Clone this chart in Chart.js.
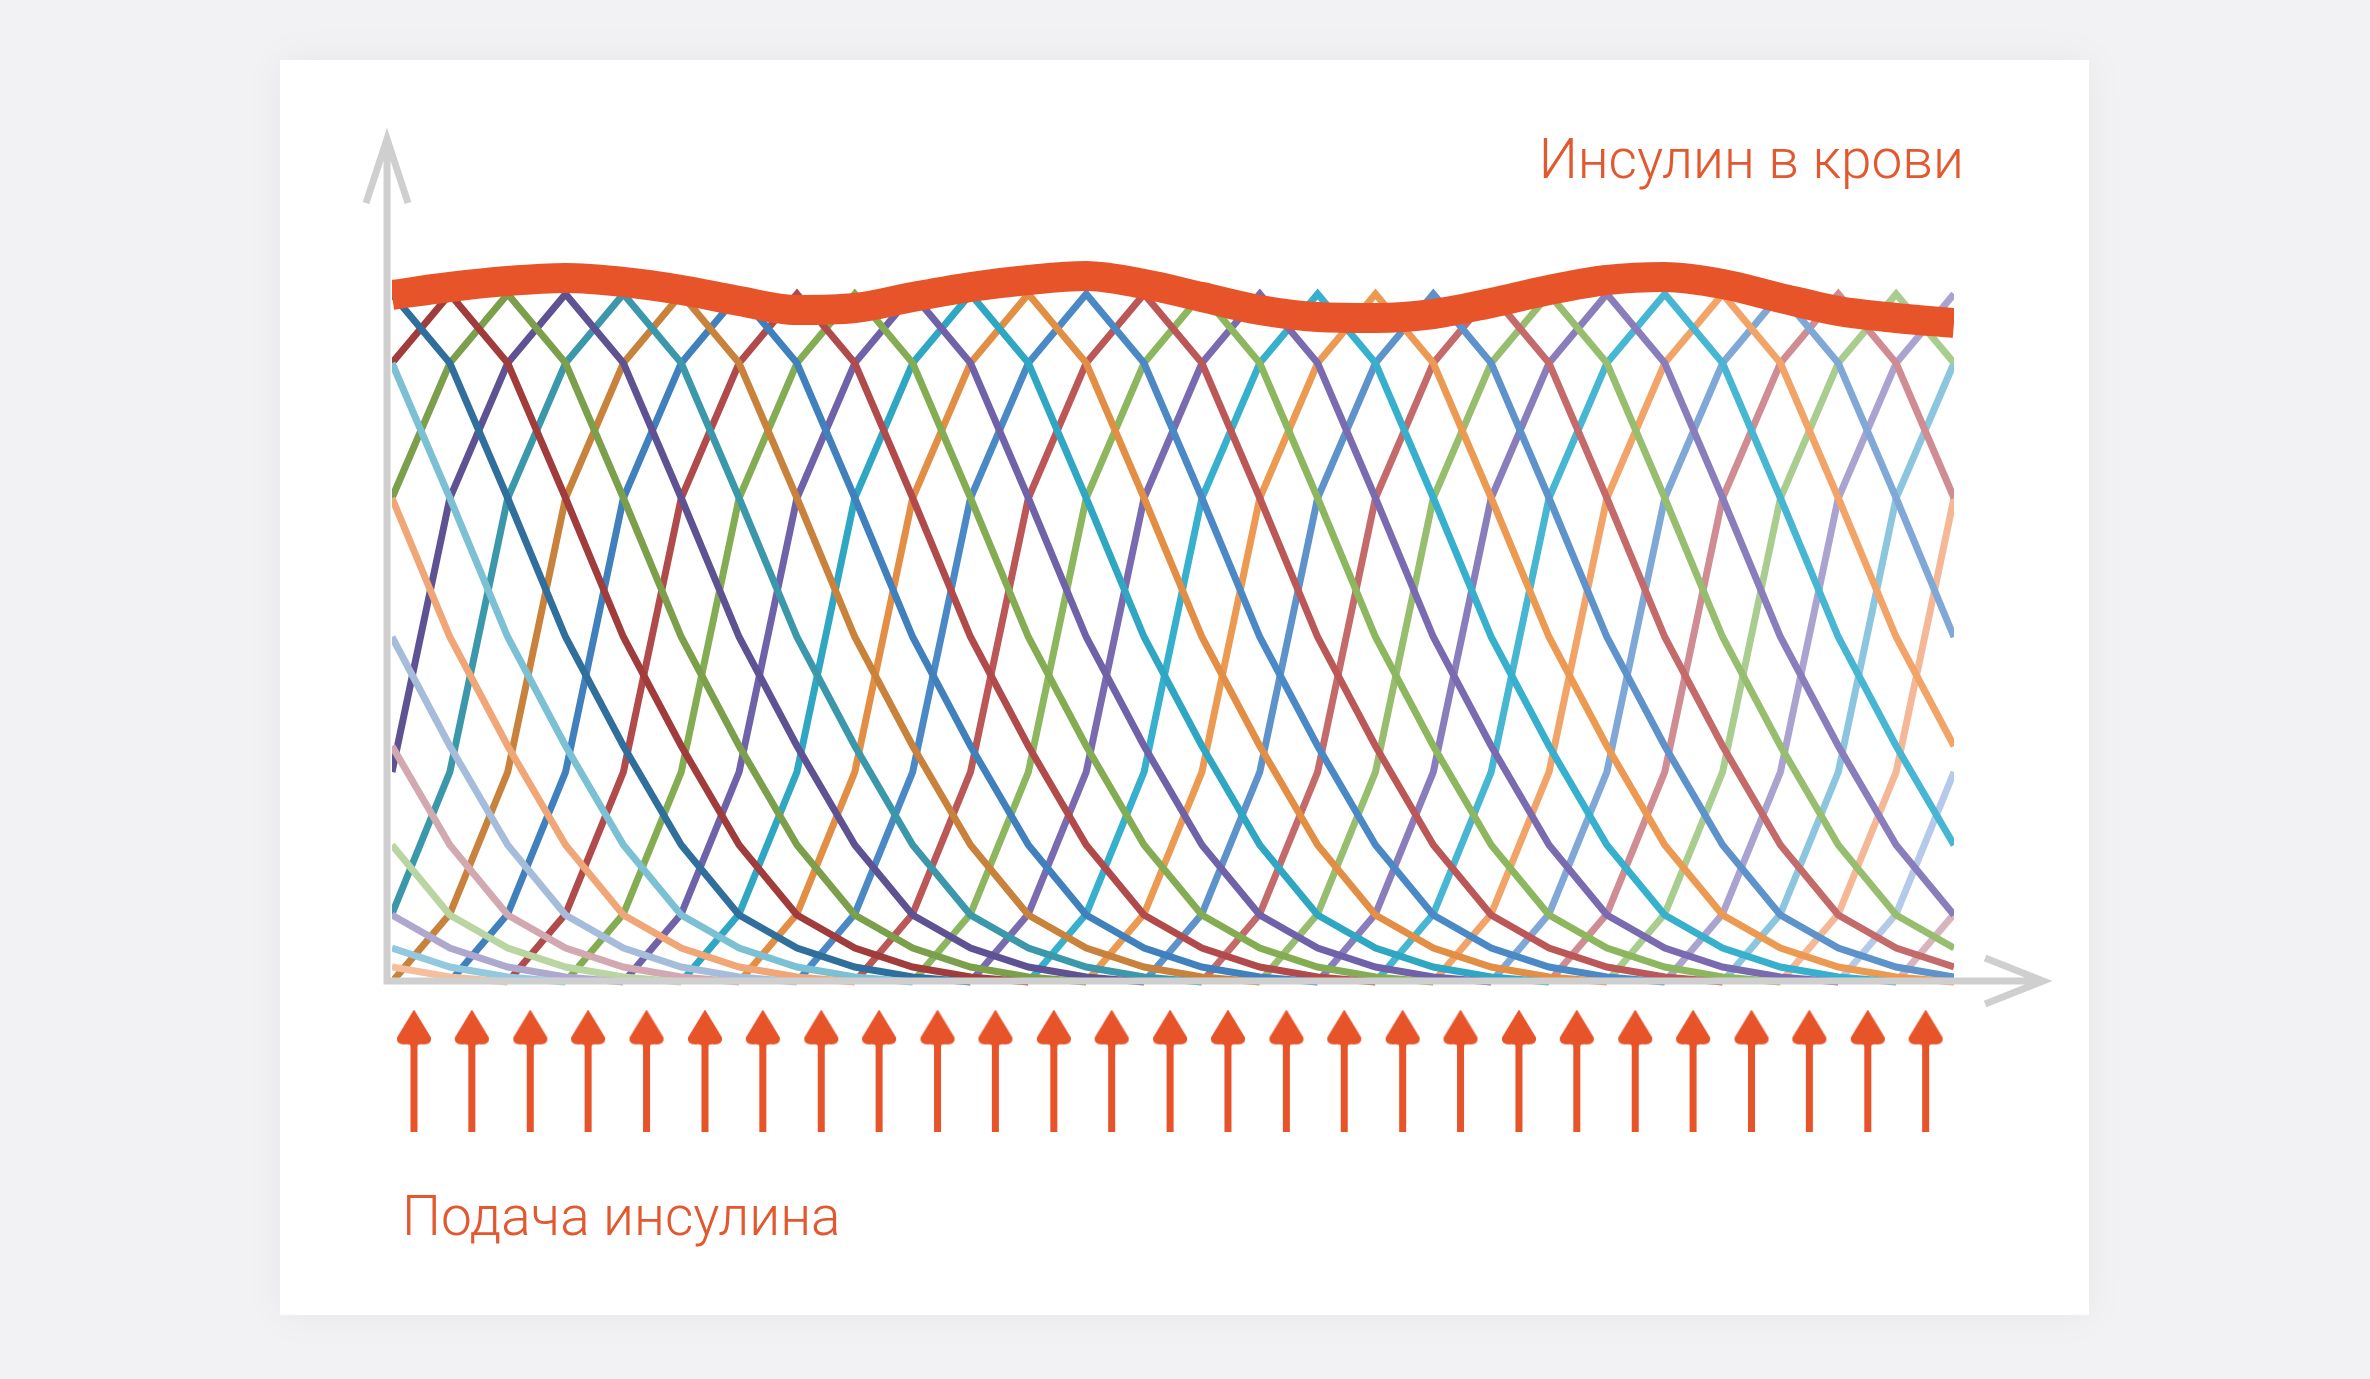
<!DOCTYPE html>
<html lang="ru">
<head>
<meta charset="utf-8">
<title>Инсулин в крови</title>
<script src="https://cdn.jsdelivr.net/npm/chart.js@4.4.1/dist/chart.umd.min.js"></script>
<style>
  html, body { margin: 0; padding: 0; }
  body { width: 2370px; height: 1379px; background: #f2f2f4; position: relative; overflow: hidden; font-family: Roboto, "Open Sans", sans-serif; }
  .card { position: absolute; left: 280px; top: 60px; width: 1809px; height: 1255px; background: #fff; box-shadow: 0 0 40px rgba(0, 0, 0, 0.05); }
  #chart { position: absolute; left: 0; top: 0; }
  .label { position: absolute; color: #e2582f; font-size: 55px; font-weight: 300; line-height: 1; white-space: nowrap; }
</style>
</head>
<body>
<div class="card"></div>
<canvas id="chart" width="2370" height="1379"></canvas>
<div class="label" style="right: 406px; top: 132px;">Инсулин в крови</div>
<div class="label" style="left: 402px; top: 1189px;">Подача инсулина</div>
<script>
// time grid, one step = one dose interval
const timeSteps = [0, 1, 2, 3, 4, 5, 6, 7, 8, 9, 10, 11, 12, 13, 14, 15, 16, 17, 18, 19, 20, 21, 22, 23, 24, 25, 26, 27];

// insulin in blood (thick orange line)
const bloodInsulin = [687, 695, 701, 704, 700, 692, 681, 672, 674, 685, 695, 702, 706, 698,
  685, 672, 665, 664, 668, 679, 692, 702, 705, 698, 684, 671, 664, 659];

// action of one dose: steps relative to its peak and the height at each
const actionOffsets = [-5, -4, -3, -2, -1, 0, 1, 2, 3, 4, 5, 6, 7, 8, 9, 10];
const actionProfile = [0, 68, 210, 484, 619, 688, 619, 484, 345, 236, 137, 67, 34, 15, 5, 0];

// step where every thin curve peaks, and its colour
const peakSteps = [-8, -7, -6, -5, -4, -3, -2, -1, 0, 1, 2, 3, 4, 5, 6, 7, 8, 9, 10, 11,
  12, 13, 14, 15, 16, 17, 18, 19, 20, 21, 22, 23, 24, 25, 26, 27, 28, 29, 30, 31];
const curveColors = [
  "#f5bf9e", "#92c9de", "#aea8cf", "#b9d5a2", "#d2a9b0", "#a5bddb", "#f0a676", "#7cc0d4",
  "#306e9b", "#a03c3c", "#7b9f4b", "#5f5293", "#3b98ab", "#c9823c",
  "#3f80bd", "#b14b4b", "#84ad53", "#7062a8", "#2fa7c2", "#e38e45",
  "#4a89c5", "#bb5757", "#8cb75e", "#7a6bb0", "#36b0cd", "#ec9a52",
  "#5d92cb", "#c46a6a", "#97be6e", "#8a7dbb", "#46b6d2", "#f2a468",
  "#7fa8d6", "#cf8c93", "#a9cd8f", "#aaa3cf", "#8cc6de", "#f5b896", "#b5c9e8", "#d8b5bd",
];

// insulin doses (arrows under the axis)
const doseTimes = [0.38, 1.38, 2.39, 3.39, 4.40, 5.41, 6.41, 7.42, 8.42, 9.43, 10.43, 11.44, 12.44,
  13.45, 14.45, 15.46, 16.46, 17.47, 18.47, 19.48, 20.48, 21.49, 22.49, 23.50, 24.50, 25.51, 26.51];
const doseHead = -46;
const doseTail = -150;

const orange = "#e8542a";

// arrow head used as point style
const head = document.createElement("canvas");
head.width = 36;
head.height = 37;
const hc = head.getContext("2d");
hc.fillStyle = orange;
hc.beginPath();
hc.moveTo(18, 0);
hc.lineTo(35, 28);
hc.quadraticCurveTo(36, 35, 28, 35);
hc.quadraticCurveTo(22, 34, 20.5, 37);
hc.lineTo(15.5, 37);
hc.quadraticCurveTo(14, 34, 8, 35);
hc.quadraticCurveTo(0, 35, 1, 28);
hc.closePath();
hc.fill();

const firstStep = timeSteps[0];
const lastStep = timeSteps[timeSteps.length - 1];

const curveSets = peakSteps.map((peak, i) => ({
  label: "доза " + (i + 1),
  data: actionOffsets
    .map((off, j) => ({ x: peak + off, y: actionProfile[j] }))
    .filter((p) => p.x >= firstStep && p.x <= lastStep),
  borderColor: curveColors[i],
  borderWidth: 7,
  pointRadius: 0,
  tension: 0,
  order: 2,
}));

const doseData = [];
doseTimes.forEach((t) => {
  doseData.push({ x: t, y: doseHead, head: true });
  doseData.push({ x: t, y: doseTail });
  doseData.push({ x: t, y: null });
});

// axis lines with open arrow tips
const axisArrows = {
  id: "axisArrows",
  afterDatasetsDraw(chart) {
    const { ctx, scales: { x, y } } = chart;
    const ox = x.getPixelForValue(-0.086);
    const oy = y.getPixelForValue(0) - 1;
    const topY = y.getPixelForValue(843);
    const rightX = x.getPixelForValue(28.54);
    ctx.save();
    ctx.strokeStyle = "#cfcfcf";
    ctx.lineWidth = 7;
    ctx.lineCap = "butt";
    ctx.lineJoin = "miter";
    ctx.beginPath();
    ctx.moveTo(ox, oy + 3.5);
    ctx.lineTo(ox, topY + 4);
    ctx.moveTo(ox - 21, topY + 64);
    ctx.lineTo(ox, topY);
    ctx.lineTo(ox + 21, topY + 64);
    ctx.moveTo(ox - 3.5, oy);
    ctx.lineTo(rightX - 4, oy);
    ctx.moveTo(rightX - 58, oy - 23);
    ctx.lineTo(rightX, oy);
    ctx.lineTo(rightX - 58, oy + 23);
    ctx.stroke();
    ctx.restore();
  },
};

new Chart(document.getElementById("chart"), {
  type: "line",
  data: {
    datasets: [
      {
        label: "Инсулин в крови",
        data: timeSteps.map((t, i) => ({ x: t, y: bloodInsulin[i] })),
        borderColor: orange,
        borderWidth: 30,
        borderCapStyle: "butt",
        cubicInterpolationMode: "monotone",
        pointRadius: 0,
        order: 0,
      },
      {
        label: "Подача инсулина",
        data: doseData,
        borderColor: orange,
        backgroundColor: orange,
        borderWidth: 7,
        borderCapStyle: "butt",
        spanGaps: false,
        pointStyle: head,
        pointRadius: (c) => (c.raw && c.raw.head ? 10 : 0),
        order: 1,
      },
      ...curveSets,
    ],
  },
  options: {
    responsive: false,
    devicePixelRatio: 1,
    animation: false,
    events: [],
    layout: { padding: { left: 392, right: 416, top: 182, bottom: 97 } },
    scales: {
      x: { type: "linear", min: firstStep, max: lastStep, display: false },
      y: { min: -300, max: 800, display: false },
    },
    plugins: {
      legend: { display: false },
      tooltip: { enabled: false },
    },
  },
  plugins: [axisArrows],
});
</script>
</body>
</html>
